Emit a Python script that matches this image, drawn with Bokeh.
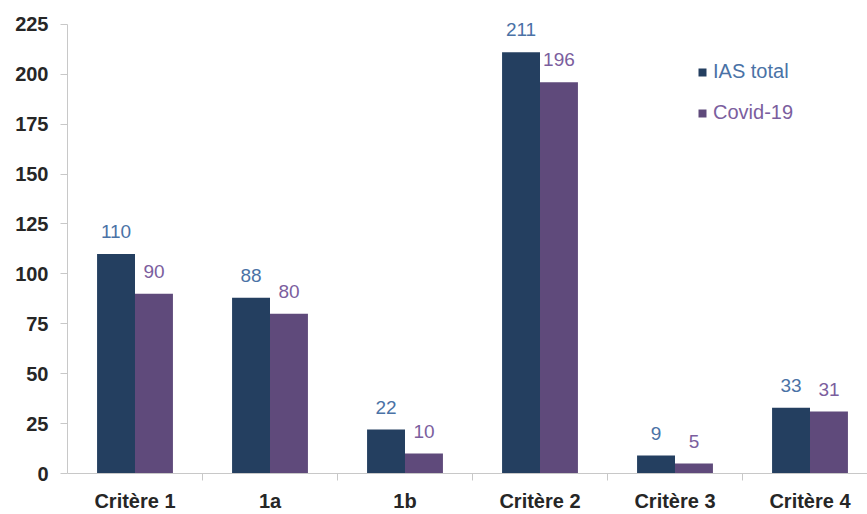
from bokeh.plotting import figure
from bokeh.models import (ColumnDataSource, Range1d, FixedTicker, LabelSet,
                          Legend, LegendItem)
from bokeh.core.properties import value
from bokeh.embed import file_html
from bokeh.resources import INLINE

categories = ["Critère 1", "1a", "1b", "Critère 2", "Critère 3", "Critère 4"]
ias_total = [110, 88, 22, 211, 9, 33]
covid = [90, 80, 10, 196, 5, 31]
y_ticks = [0, 25, 50, 75, 100, 125, 150, 175, 200, 225]

C_IAS = "#243f60"
C_COV = "#5f4a7b"
T_IAS = "#4a72a6"
T_COV = "#7b5e9e"

bw = 0.281
centers = [i + 0.5 for i in range(len(categories))]
src_ias = ColumnDataSource(dict(x=[c - bw / 2 for c in centers], top=ias_total,
                                lab=[str(v) for v in ias_total]))
src_cov = ColumnDataSource(dict(x=[c + bw / 2 for c in centers], top=covid,
                                lab=[str(v) for v in covid]))

p = figure(width=867, height=514, output_backend="svg", toolbar_location=None,
           x_range=Range1d(0, 800 / 135), y_range=Range1d(0, 474 / 452 * 225),
           min_border_left=67, min_border_right=0, min_border_top=2,
           min_border_bottom=38)
p.outline_line_color = None
p.xgrid.visible = False
p.ygrid.visible = False

r1 = p.vbar(x="x", top="top", width=bw, source=src_ias, fill_color=C_IAS, line_color=None)
r2 = p.vbar(x="x", top="top", width=bw, source=src_cov, fill_color=C_COV, line_color=None)

for src, col in ((src_ias, T_IAS), (src_cov, T_COV)):
    p.add_layout(LabelSet(x="x", y="top", text="lab", source=src, y_offset=16,
                          text_align="center", text_baseline="alphabetic",
                          text_font=value("Liberation Sans"), text_font_size="19px",
                          text_color=col))

# axes
p.yaxis.ticker = FixedTicker(ticks=y_ticks)
p.yaxis.bounds = (0, 225)
p.yaxis.axis_line_color = "#c8c8c8"
p.yaxis.major_tick_line_color = "#c8c8c8"
p.yaxis.major_tick_out = 7
p.yaxis.major_tick_in = 0
p.yaxis.minor_tick_line_color = None
p.yaxis.major_label_text_font = "Liberation Sans"
p.yaxis.major_label_text_font_style = "bold"
p.yaxis.major_label_text_font_size = "20px"
p.yaxis.major_label_text_color = "#262626"
p.yaxis.major_label_standoff = 12

p.xaxis.ticker = FixedTicker(ticks=centers, minor_ticks=[1, 2, 3, 4, 5])
p.xaxis.major_label_overrides = {c: n for c, n in zip(centers, categories)}
p.xaxis.axis_line_color = "#c8c8c8"
p.xaxis.major_tick_line_color = None
p.xaxis.minor_tick_line_color = "#c8c8c8"
p.xaxis.minor_tick_out = 7
p.xaxis.minor_tick_in = 0
p.xaxis.major_label_text_font = "Liberation Sans"
p.xaxis.major_label_text_font_style = "bold"
p.xaxis.major_label_text_font_size = "20px"
p.xaxis.major_label_text_color = "#262626"
p.xaxis.major_label_standoff = 9

for lab, r, col, loc in (("IAS total", r1, T_IAS, (630, 390)),
                         ("Covid-19", r2, T_COV, (630, 349))):
    lg = Legend(items=[LegendItem(label=lab, renderers=[r])], location=loc,
                border_line_color=None, background_fill_alpha=0,
                padding=0, margin=0, glyph_width=10, glyph_height=10,
                label_standoff=6, label_text_font="Liberation Sans",
                label_text_font_size="20px", label_text_color=col)
    p.add_layout(lg, "center")

open("out.html", "w").write(file_html(p, INLINE))
